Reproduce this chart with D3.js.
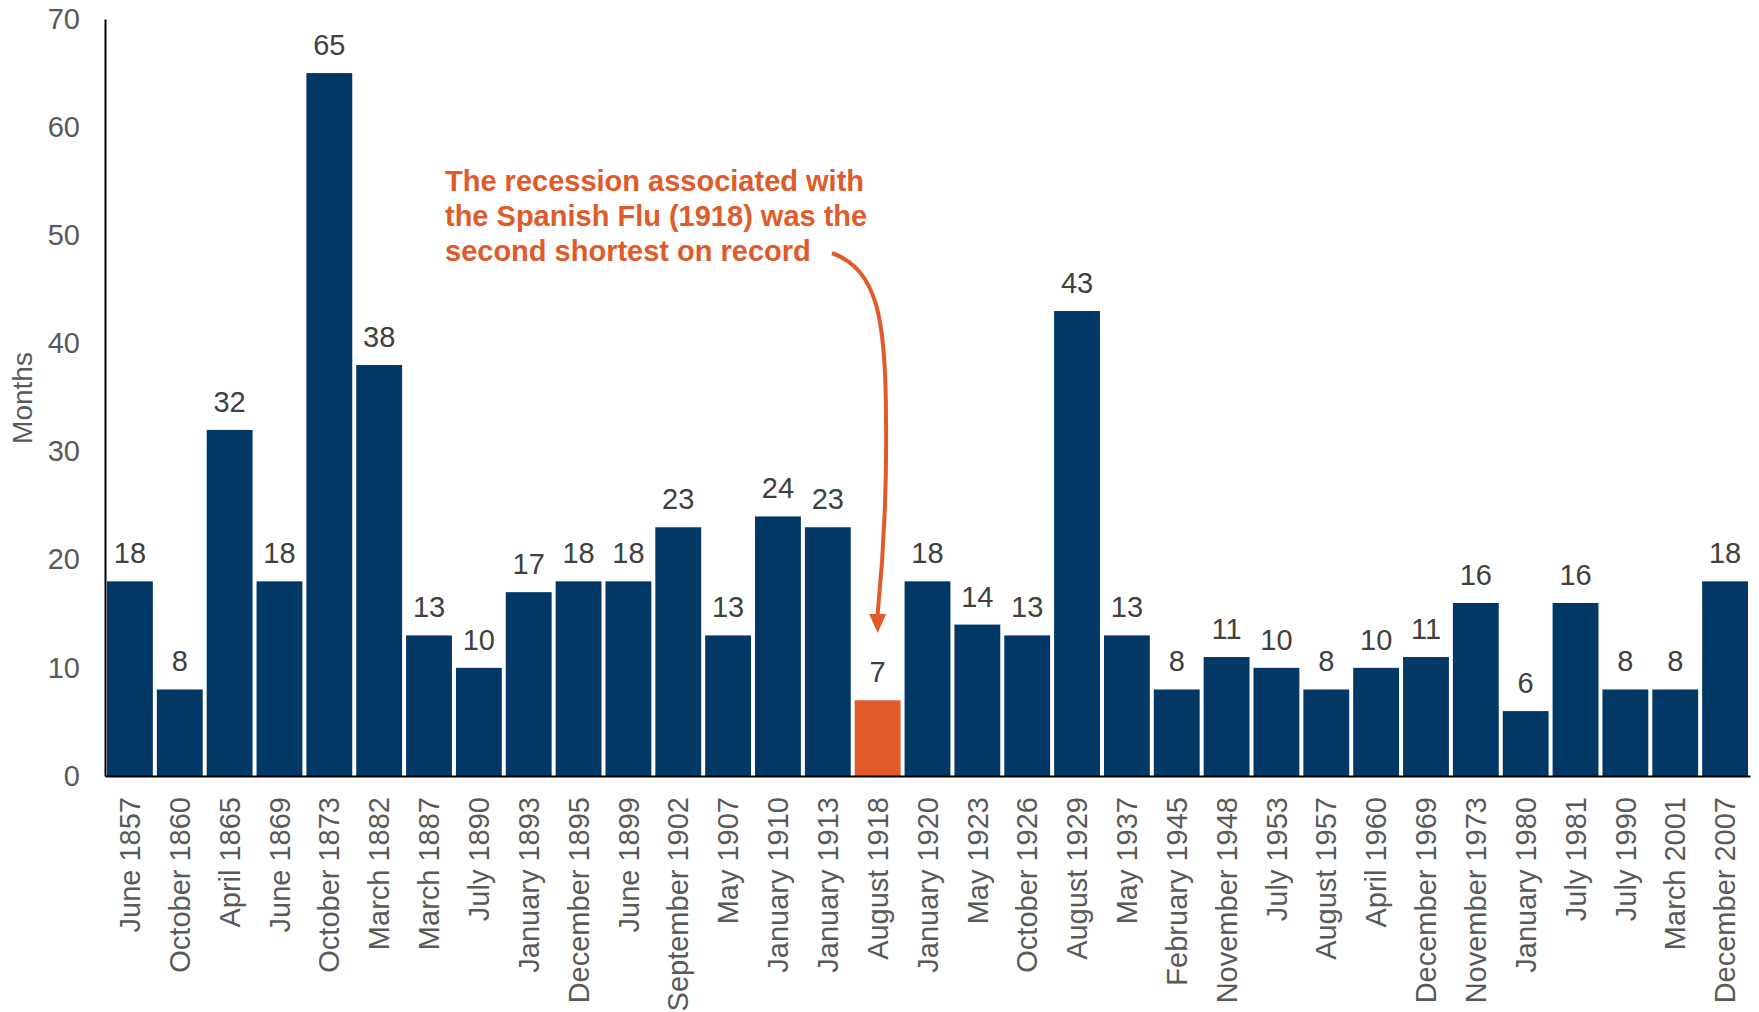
<!DOCTYPE html>
<html>
<head>
<meta charset="utf-8">
<script src="https://cdn.jsdelivr.net/npm/d3@7"></script>
<style>
  html, body { margin: 0; padding: 0; background: #fff; }
  svg { display: block; font-family: "Liberation Sans", Arial, sans-serif; }
</style>
</head>
<body>
<svg id="chart" width="1759" height="1012"></svg>
<script>
const categories = ["June 1857","October 1860","April 1865","June 1869","October 1873","March 1882","March 1887","July 1890","January 1893","December 1895","June 1899","September 1902","May 1907","January 1910","January 1913","August 1918","January 1920","May 1923","October 1926","August 1929","May 1937","February 1945","November 1948","July 1953","August 1957","April 1960","December 1969","November 1973","January 1980","July 1981","July 1990","March 2001","December 2007"];
const months = [18,8,32,18,65,38,13,10,17,18,18,23,13,24,23,7,18,14,13,43,13,8,11,10,8,10,11,16,6,16,8,8,18];
const highlight = "August 1918";
const yTicks = [0,10,20,30,40,50,60,70];
const annotationLines = ["The recession associated with","the Spanish Flu (1918) was the","second shortest on record"];
const yTitle = "Months";

const svg = d3.select("#chart");
const navy = "#023865", orange = "#E05A2A";
const FS = 29;

const x = d3.scaleBand().domain(categories).range([105, 1750]).paddingInner(0.08).paddingOuter(0.04);
const y = d3.scaleLinear().domain([0, 70]).range([776, 19]);

// bars
svg.append("g").selectAll("rect").data(categories).join("rect")
  .attr("x", d => x(d))
  .attr("width", x.bandwidth())
  .attr("y", (d, i) => y(months[i]))
  .attr("height", (d, i) => y(0) - y(months[i]))
  .attr("fill", d => d === highlight ? orange : navy);

// value labels
svg.append("g").selectAll("text").data(categories).join("text")
  .attr("x", d => x(d) + x.bandwidth() / 2)
  .attr("y", (d, i) => y(months[i]) - 18)
  .attr("text-anchor", "middle")
  .attr("font-size", FS)
  .attr("fill", "#404040")
  .text((d, i) => months[i]);

// y axis
const yAxis = d3.axisLeft(y).tickValues(yTicks).tickSize(0).tickPadding(25);
const gy = svg.append("g").attr("transform", "translate(105,0)").call(yAxis);
gy.select(".domain").attr("stroke", "#000").attr("stroke-width", 2);
gy.selectAll("text").attr("font-size", FS).attr("fill", "#595959").attr("font-family", "Liberation Sans, Arial, sans-serif");

// x axis
const xAxis = d3.axisBottom(x).tickSize(0).tickSizeOuter(0);
const gx = svg.append("g").attr("transform", "translate(0,776)").call(xAxis);
gx.select(".domain").attr("stroke", "#000").attr("stroke-width", 2);
gx.selectAll("text")
  .attr("font-size", FS).attr("fill", "#595959").attr("font-family", "Liberation Sans, Arial, sans-serif")
  .attr("text-anchor", "end")
  .attr("transform", "translate(0,21) rotate(-90)")
  .attr("x", 0).attr("y", 0).attr("dy", "0.35em");

// y title
svg.append("text")
  .attr("transform", "translate(22,398) rotate(-90)")
  .attr("text-anchor", "middle").attr("dy", "0.35em")
  .attr("font-size", 28).attr("fill", "#595959")
  .text(yTitle);

// annotation
const ann = svg.append("text").attr("font-size", FS).attr("font-weight", "bold").attr("fill", orange);
annotationLines.forEach((t, i) => {
  ann.append("tspan").attr("x", 445).attr("y", 191 + i * 35).text(t);
});

// arrow
const cx = x(highlight) + x.bandwidth() / 2;
const arrow = d3.path();
arrow.moveTo(832, 253);
arrow.bezierCurveTo(878, 270, 886, 320, 886, 420);
arrow.bezierCurveTo(887, 500, 883, 560, cx, 614);
svg.append("path").attr("d", arrow.toString())
  .attr("fill", "none").attr("stroke", orange).attr("stroke-width", 4);
svg.append("path")
  .attr("d", `M${cx - 8.5},614 L${cx + 8.5},614 L${cx},633 Z`)
  .attr("fill", orange);
</script>
</body>
</html>
